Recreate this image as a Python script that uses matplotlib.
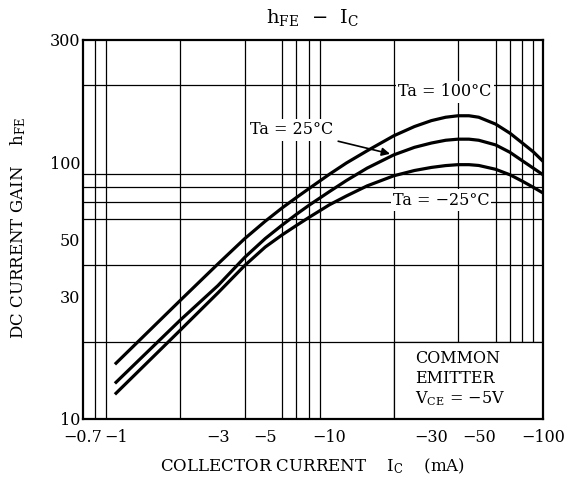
import matplotlib
matplotlib.use("Agg")
import matplotlib.pyplot as plt
from matplotlib.ticker import FixedLocator, FixedFormatter, NullFormatter
from matplotlib.patches import Rectangle

plt.rcParams['font.family'] = ['DejaVu Serif']
plt.rcParams['mathtext.fontset'] = 'dejavuserif'

# collector current (mA, magnitude)
ic = [1, 2, 3, 4, 5, 6, 7, 8, 10, 12, 15, 20, 25, 30, 35, 40, 45, 50, 60, 70, 80, 90, 100]
hfe_100 = [16.5, 29.0, 40.2, 50.4, 59, 66.5, 73, 79, 90, 99.5, 111, 127, 138, 145.5, 150, 152,
           152, 150, 141, 130, 119, 110, 101]
hfe_25 = [13.9, 24.3, 33.1, 42.6, 50.5, 57, 62.8, 68, 77, 85, 95, 107, 114.5, 119, 122, 123.2,
          123.2, 122, 117, 109.5, 101.5, 95, 89.5]
hfe_m25 = [12.6, 22.2, 31.0, 39.6, 46.8, 52.2, 56.8, 61, 68.4, 74, 81, 88.7, 93, 95.6, 97.2, 98,
           98, 97.3, 94, 89.5, 84.5, 80, 76]

x_ticks = [0.7, 1, 3, 5, 10, 30, 50, 100]
x_tick_labels = ["−0.7", "−1", "−3", "−5", "−10", "−30", "−50", "−100"]
y_ticks = [10, 30, 50, 100, 300]
y_tick_labels = ["10", "30", "50", "100", "300"]
x_grid = [0.8, 0.9, 1, 2, 3, 4, 5, 6, 7, 8, 9, 10, 20, 30, 40, 50, 60, 70, 80, 90]
y_grid = [20, 30, 40, 50, 60, 70, 80, 90, 100, 200]

fig = plt.figure(figsize=(5.68, 4.86), dpi=100)
ax = fig.add_axes([0.1461, 0.1379, 0.956 - 0.1461, 0.9177 - 0.1379])
ax.set_xscale('log')
ax.set_yscale('log')
ax.set_xlim(0.7, 100)
ax.set_ylim(10, 300)

ax.xaxis.set_major_locator(FixedLocator(x_ticks))
ax.xaxis.set_major_formatter(FixedFormatter(x_tick_labels))
ax.xaxis.set_minor_locator(FixedLocator(x_grid))
ax.xaxis.set_minor_formatter(NullFormatter())
ax.yaxis.set_major_locator(FixedLocator(y_ticks))
ax.yaxis.set_major_formatter(FixedFormatter(y_tick_labels))
ax.yaxis.set_minor_locator(FixedLocator(y_grid))
ax.yaxis.set_minor_formatter(NullFormatter())
ax.tick_params(which='both', length=0, labelsize=11.5, colors='black')
ax.tick_params(axis='x', pad=7)
ax.tick_params(axis='y', pad=2)
ax.set_axisbelow(True)
ax.grid(which='minor', color='black', linewidth=0.9)
for s in ax.spines.values():
    s.set_linewidth(1.6)
    s.set_zorder(5)

# box for conditions
ax.add_patch(Rectangle((20, 10), 80, 10, facecolor='white', edgecolor='black',
                       linewidth=0.9, zorder=1.5))

lw = 2.3
ax.plot(ic, hfe_100, color='black', lw=lw, zorder=3, solid_joinstyle='round')
ax.plot(ic, hfe_25, color='black', lw=lw, zorder=3, solid_joinstyle='round')
ax.plot(ic, hfe_m25, color='black', lw=lw, zorder=3, solid_joinstyle='round')

bb = dict(facecolor='white', edgecolor='none', pad=1.5)
fig.text(445 / 568, 1 - 92 / 486, "Ta = 100°C", fontsize=11.5, ha='center', va='center',
         bbox=bb, zorder=4)
ax.annotate("Ta = 25°C", xy=(19.2, 108), xycoords='data',
            xytext=(292 / 568, 1 - 130 / 486), textcoords='figure fraction',
            fontsize=11.5, ha='center', va='center', bbox=bb, zorder=4,
            arrowprops=dict(arrowstyle='-|>', color='black', lw=1.2,
                            mutation_scale=12, shrinkA=2, shrinkB=0))
fig.text(441 / 568, 1 - 200 / 486, "Ta = −25°C", fontsize=11.5, ha='center', va='center',
         bbox=bb, zorder=4)
fig.text(415 / 568, 1 - 379 / 486, "COMMON\nEMITTER\nV$_{\\rm CE}$ = −5V", fontsize=11.5,
         ha='left', va='center', linespacing=1.2)

fig.text(313 / 568, 1 - 18 / 486, "h$_{\\rm FE}$  −  I$_{\\rm C}$", fontsize=14,
         ha='center', va='center')
fig.text(18 / 568, 1 - 228 / 486, "DC CURRENT GAIN    h$_{\\rm FE}$", fontsize=12,
         ha='center', va='center', rotation=90)
fig.text(313 / 568, 1 - 466 / 486, "COLLECTOR CURRENT    I$_{\\rm C}$    (mA)", fontsize=12,
         ha='center', va='center')

fig.savefig("out.png", dpi=100)
